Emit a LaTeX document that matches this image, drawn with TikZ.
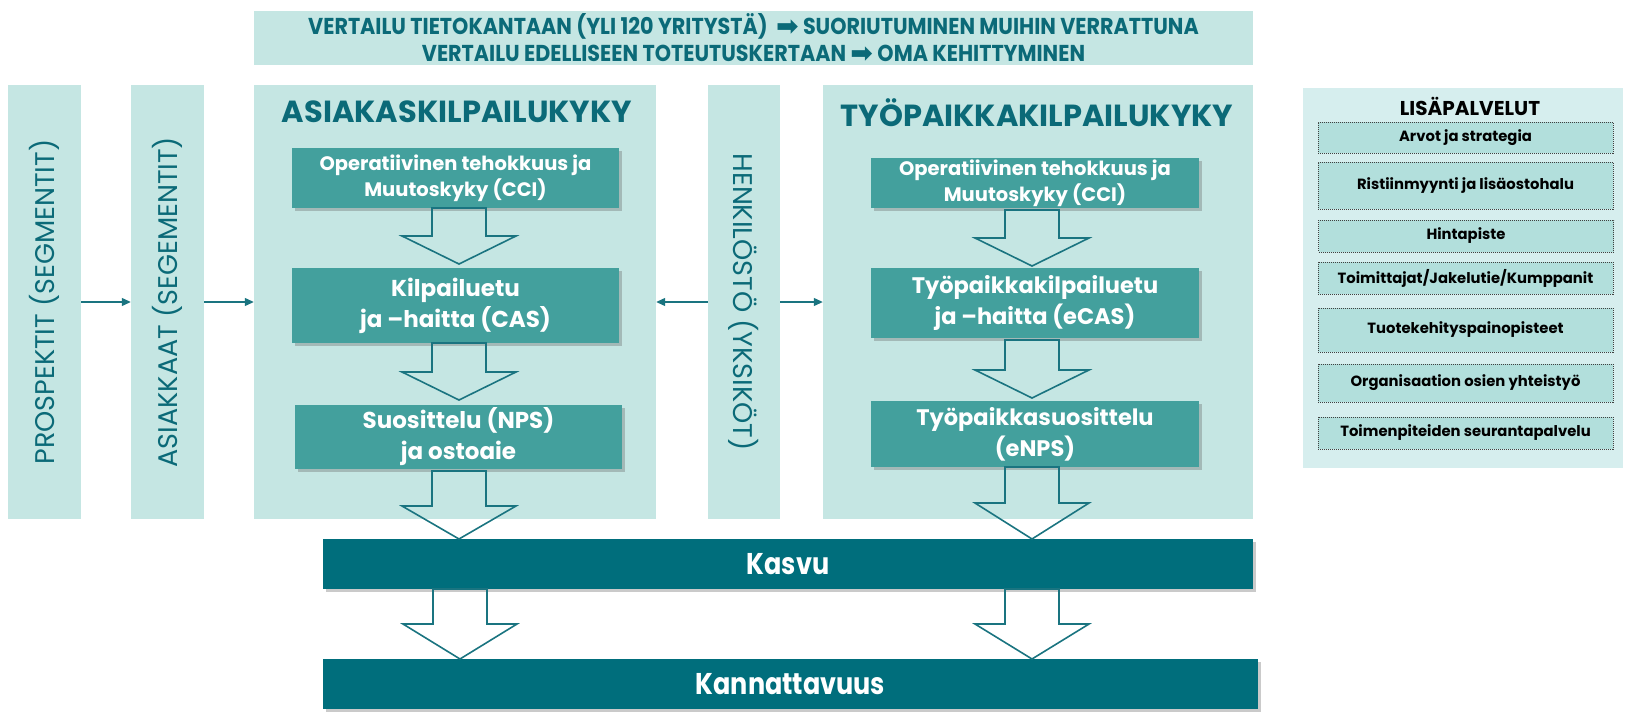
\documentclass[tikz,border=0pt]{standalone}
\usepackage{fontspec}
\setmainfont{Poppins}
\newfontfamily\condfont[FakeStretch=0.9]{Poppins}
\newfontfamily\barfont[FakeStretch=0.85]{Poppins}
\newfontfamily\symfont{DejaVu Sans}
\usetikzlibrary{shadows,arrows.meta}
\definecolor{panelc}{HTML}{C5E6E3}
\definecolor{boxc}{HTML}{43A09D}
\definecolor{darkc}{HTML}{006E7C}
\definecolor{titlec}{HTML}{0B6A78}
\definecolor{arrc}{HTML}{1A7480}
\definecolor{lpanelc}{HTML}{D6EEEE}
\definecolor{lboxc}{HTML}{B2DFDC}
\tikzset{
  panel/.style={fill=panelc, draw=none, inner sep=0pt, anchor=center},
  vtext/.style={text=titlec, font=\fontsize{27}{30}\selectfont},
  ptitle/.style={text=titlec, font=\bfseries\fontsize{30.5}{32}\selectfont, inner sep=0pt},
  mbox/.style={fill=boxc, draw=none, text=white, align=center, inner sep=0pt,
     drop shadow={shadow xshift=3pt, shadow yshift=-3pt, opacity=0.35, fill=black!60}},
  bigbar/.style={fill=darkc, draw=none, text=white, inner sep=0pt,
     font=\barfont\bfseries\fontsize{30}{32}\selectfont,
     drop shadow={shadow xshift=3pt, shadow yshift=-3pt, opacity=0.35, fill=black!60}},
  lbox/.style={fill=lboxc, draw=black!75, line width=0.6pt, dash pattern=on 1pt off 1pt,
     inner sep=0pt, font=\bfseries\fontsize{14.8}{17}\selectfont},
  barrow/.style={draw=arrc, line width=1.6pt, line join=miter},
  larrow/.style={draw=arrc, line width=1.2pt, -{Triangle[length=9pt,width=8pt]}}
}
\newcommand\blockarr[4]{%
  \draw[barrow] (#1-27,#2) -- (#1+27,#2) -- (#1+27,#3) -- (#1+57,#3) -- (#1,#4) -- (#1-57,#3) -- (#1-27,#3) -- cycle;}
\newcommand\bannerarrow{{\symfont\fontsize{27}{27}\selectfont\raisebox{-1.5pt}{➡}}}
\begin{document}
\begin{tikzpicture}[x=1pt,y=-1pt]
\useasboundingbox (0,0) rectangle (1628,720);
% banner
\node[panel, minimum width=999pt, minimum height=54pt, text=titlec, align=center,
  font=\condfont\bfseries\fontsize{23}{27}\selectfont] (banner) at (753.5,38)
  {VERTAILU TIETOKANTAAN (YLI 120 YRITYSTÄ) \,\bannerarrow{} SUORIUTUMINEN MUIHIN VERRATTUNA\\
   VERTAILU EDELLISEEN TOTEUTUSKERTAAN \bannerarrow{} OMA KEHITTYMINEN};
% columns
\node[panel, minimum width=73pt, minimum height=434pt] (prosp) at (44.5,302) {};
\node[vtext, rotate=90] (prospt) at (44.5,302) {PROSPEKTIT (SEGMENTIT)};
\node[panel, minimum width=73pt, minimum height=434pt] (asiak) at (167.5,302) {};
\node[vtext, rotate=90] (asiakt) at (167.5,302) {ASIAKKAAT (SEGEMENTIT)};
\node[panel, minimum width=402pt, minimum height=434pt] (apanel) at (455,302) {};
\node[panel, minimum width=72pt, minimum height=434pt] (henk) at (744,302) {};
\node[vtext, rotate=-90] (henkt) at (744,302) {HENKILÖSTÖ (YKSIKÖT)};
\node[panel, minimum width=430pt, minimum height=434pt] (tpanel) at (1038,302) {};
% titles
\node[ptitle] (atitle) at (457,112) {ASIAKASKILPAILUKYKY};
\node[ptitle] (ttitle) at (1037,113) {TYÖPAIKKAKILPAILUKYKY};
% line arrows
\draw[larrow] (prosp.east) -- (asiak.west);
\draw[larrow] (asiak.east) -- (apanel.west);
\draw[larrow] (henk.west) -- (apanel.east);
\draw[larrow] (henk.east) -- (tpanel.west);
% left boxes
\node[mbox, minimum width=327pt, minimum height=60pt, font=\bfseries\fontsize{19.5}{26}\selectfont] (a1) at (455.5,178)
  {Operatiivinen tehokkuus ja\\Muutoskyky (CCI)};
\node[mbox, minimum width=327pt, minimum height=75pt, font=\bfseries\fontsize{23}{31}\selectfont] (a2) at (455.5,305.5)
  {Kilpailuetu\\ja –haitta (CAS)};
\node[mbox, minimum width=327pt, minimum height=64pt, font=\bfseries\fontsize{23}{31}\selectfont] (a3) at (458.5,437)
  {Suosittelu (NPS)\\ja ostoaie};
% right boxes
\node[mbox, minimum width=328pt, minimum height=50pt, font=\bfseries\fontsize{19.5}{26}\selectfont] (t1) at (1035,183)
  {Operatiivinen tehokkuus ja\\Muutoskyky (CCI)};
\node[mbox, minimum width=328pt, minimum height=70pt, font=\bfseries\fontsize{22.5}{31}\selectfont] (t2) at (1035,303)
  {Työpaikkakilpailuetu\\ja –haitta (eCAS)};
\node[mbox, minimum width=328pt, minimum height=66pt, font=\bfseries\fontsize{22.5}{31}\selectfont] (t3) at (1035,434)
  {Työpaikkasuosittelu\\(eNPS)};
% bars
\node[bigbar, minimum width=930pt, minimum height=50pt] (kasvu) at (788,564) {Kasvu};
\node[bigbar, minimum width=935pt, minimum height=50pt] (kann) at (790.5,684) {Kannattavuus};
% block arrows
\blockarr{459}{208}{236}{264}
\blockarr{459}{343}{372}{400}
\blockarr{459}{471}{506}{539}
\blockarr{1032}{210}{238}{266}
\blockarr{1032}{340}{370}{398}
\blockarr{1032}{467}{503}{539}
\blockarr{460}{589}{624}{659}
\blockarr{1032}{589}{624}{659}
% Lisäpalvelut
\node[fill=lpanelc, minimum width=320pt, minimum height=380pt, inner sep=0pt] (lpanel) at (1463,278) {};
\node[font=\bfseries\fontsize{20}{22}\selectfont, inner sep=0pt] (ltitle) at (1470,106) {LISÄPALVELUT};
\node[lbox, minimum width=295pt, minimum height=31pt] (l1) at (1465.5,137.5) {Arvot ja strategia};
\node[lbox, minimum width=295pt, minimum height=47pt] (l2) at (1465.5,185.5) {Ristiinmyynti ja lisäostohalu};
\node[lbox, minimum width=295pt, minimum height=32pt] (l3) at (1466,236) {Hintapiste};
\node[lbox, minimum width=295pt, minimum height=32pt] (l4) at (1465.5,278) {Toimittajat/Jakelutie/Kumppanit};
\node[lbox, minimum width=295pt, minimum height=44pt] (l5) at (1465.5,330) {Tuotekehityspainopisteet};
\node[lbox, minimum width=295pt, minimum height=38pt] (l6) at (1465.5,383) {Organisaation osien yhteistyö};
\node[lbox, minimum width=295pt, minimum height=32pt] (l7) at (1465.5,433) {Toimenpiteiden seurantapalvelu};
\end{tikzpicture}
\end{document}
